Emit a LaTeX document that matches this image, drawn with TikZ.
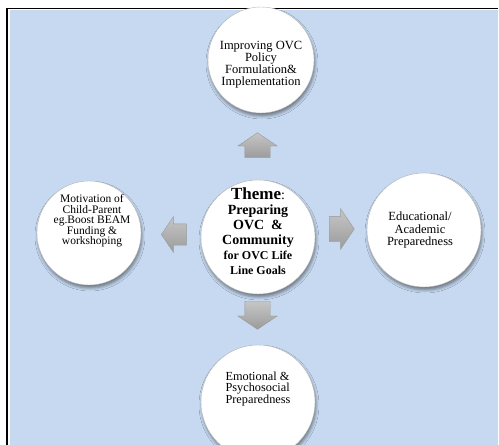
\documentclass[tikz,border=0pt]{standalone}
\usepackage{fontspec}
\setmainfont{Liberation Serif}
\usepackage{tikz}
\usetikzlibrary{shapes.arrows,shadows.blur}

\definecolor{paleblue}{RGB}{198,217,240}
\pgfdeclareradialshading{button}{\pgfpoint{-4bp}{14bp}}{%
  color(0bp)=(white); color(30bp)=(white); color(46bp)=(gray!12); color(54bp)=(gray!30); color(64bp)=(gray!55)}

\tikzset{
  button/.style={circle, shading=button, draw=gray!55, line width=0.4pt, inner sep=0pt,
    blur shadow={shadow xshift=1pt, shadow yshift=-3pt, shadow blur radius=3pt, shadow opacity=45}},
  caption/.style={align=center, text=black, inner sep=0pt},
  blockarrow/.style={single arrow, draw=gray!80, top color=gray!45, bottom color=gray!78,
    minimum height=25pt, inner xsep=0pt, inner ysep=12.5pt, single arrow head extend=7pt,
    single arrow tip angle=112},
  % rotated arrows take their shaft width from the horizontal padding
  uprightarrow/.style={blockarrow, inner xsep=12.5pt, inner ysep=0pt}
}

\begin{document}
\begin{tikzpicture}[x=1pt,y=-1pt]
    \useasboundingbox (0,0) rectangle (499,445);

    % Background and frame
    \fill[paleblue] (10,10) rectangle (498,445);
    \draw[line width=2pt] (7,445) -- (7,8.5);
    \draw[line width=1.2pt] (6,8.5) -- (498,8.5);

    % Circles
    \node[button, minimum size=106pt] (policy) at (261,60) {};
    \node[button, minimum size=114pt] (theme) at (258,237) {};
    \node[button, minimum size=104pt] (motivation) at (89,233) {};
    \node[button, minimum size=114pt] (academic) at (424,230) {};
    \node[button, minimum size=114pt] (emotional) at (258,402) {};

    % Texts in circles
    \node[caption, font=\fontsize{12.5}{12}\selectfont] (policyText) at ([yshift=-5pt]policy.center)
        {Improving OVC\\Policy\\Formulation\&\\Implementation};
    \node[caption, font=\bfseries\fontsize{14}{15}\selectfont] (themeText) at ([yshift=6pt]theme.center)
        {{\fontsize{17}{17}\selectfont Theme}\mdseries:\\Preparing\\OVC~~\&\\Community\\
         {\fontsize{12}{12}\selectfont for OVC Life}\\{\fontsize{12}{12}\selectfont Line Goals}};
    \node[caption, font=\fontsize{11.5}{10.5}\selectfont] (motivationText) at ([xshift=3pt,yshift=12pt]motivation.center)
        {Motivation of\\Child-Parent\\eg.Boost BEAM\\Funding \&\\workshoping};
    \node[caption, font=\fontsize{12.5}{12.5}\selectfont] (academicText) at ([xshift=-4pt]academic.center)
        {Educational/\\Academic\\Preparedness};
    \node[caption, align=left, font=\fontsize{12.3}{11.7}\selectfont] (emotionalText) at ([yshift=13pt]emotional.center)
        {Emotional \&\\Psychosocial\\Preparedness};

    % Arrows
    \node[uprightarrow, shape border rotate=90] (upArrow) at (257.5,149.5) {};
    \node[blockarrow, shape border rotate=180, inner ysep=10.5pt] (leftArrow) at (177.5,234.5) {};
    \node[blockarrow, shape border rotate=0, single arrow head extend=7.5pt] (rightArrow) at (337.5,229) {};
    \node[uprightarrow, shape border rotate=270, minimum height=28pt] (downArrow) at (257.5,311) {};

\end{tikzpicture}
\end{document}
